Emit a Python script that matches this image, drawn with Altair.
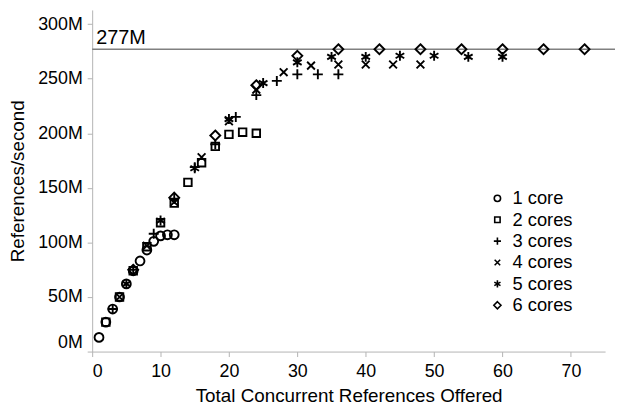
import altair as alt
import pandas as pd

series_names = ["1 core", "2 cores", "3 cores", "4 cores", "5 cores", "6 cores"]

x_1 = [1, 2, 3, 4, 5, 6, 7, 8, 9, 10, 11, 12]
y_1 = [13, 27, 39, 50, 62, 74, 83, 93, 101, 106, 107, 107]
x_2 = [2, 4, 6, 8, 10, 12, 14, 16, 18, 20, 22, 24]
y_2 = [27, 50, 74, 96, 118, 136, 155, 173, 188, 199, 201, 200]
x_3 = [3, 6, 9, 12, 15, 18, 21, 24, 27, 30, 33, 36]
y_3 = [39, 75, 108, 140, 169, 190, 215, 235, 248, 254, 254, 254]
x_4 = [4, 8, 12, 16, 20, 24, 28, 32, 36, 40, 44, 48]
y_4 = [50, 97, 137, 178, 211, 240, 256, 262, 263, 263, 263, 263]
x_5 = [5, 10, 15, 20, 25, 30, 35, 40, 45, 50, 55, 60]
y_5 = [62, 120, 168, 213, 246, 265, 270, 270, 271, 271, 270, 270]
x_6 = [6, 12, 18, 24, 30, 36, 42, 48, 54, 60, 66, 72]
y_6 = [75, 141, 198, 244, 271, 277, 277, 277, 277, 277, 277, 277]

ref_value = [277]
ref_label = ["277M"]

x_ticks = [0, 10, 20, 30, 40, 50, 60, 70]
y_ticks = [0, 50, 100, 150, 200, 250, 300]

rows = []
for name, xs, ys in zip(series_names, [x_1, x_2, x_3, x_4, x_5, x_6],
                        [y_1, y_2, y_3, y_4, y_5, y_6]):
    for a, b in zip(xs, ys):
        rows.append({"series": name, "x": a, "y": b})
df = pd.DataFrame(rows)
ref = pd.DataFrame({"y": ref_value, "label": ref_label})

circle_path = "M0.8,0A0.8,0.8,0,1,1,-0.8,0A0.8,0.8,0,1,1,0.8,0Z"
square_path = "M-0.68,-0.68H0.68V0.68H-0.68Z"
plus_path = "M-0.9,0H0.9M0,-0.9V0.9"
x_path = "M-0.7,-0.7L0.7,0.7M-0.7,0.7L0.7,-0.7"
star_path = "M0,-0.9V0.9M-0.78,-0.45L0.78,0.45M-0.78,0.45L0.78,-0.45"
diamond_path = "M0,-0.9L0.9,0L0,0.9L-0.9,0Z"
shapes = [circle_path, square_path, plus_path, x_path, star_path, diamond_path]

FONT = "Liberation Sans"

points = alt.Chart(df).mark_point(
    filled=False, size=125, strokeWidth=1.9, color="black", opacity=1
).encode(
    x=alt.X("x:Q", scale=alt.Scale(domain=[0, 75], nice=False),
            axis=alt.Axis(values=x_ticks, title="Total Concurrent References Offered",
                          labelPadding=6, titlePadding=6)),
    y=alt.Y("y:Q", scale=alt.Scale(domain=[0, 313], nice=False),
            axis=alt.Axis(values=y_ticks, labelExpr="datum.value + 'M'",
                          title="References/second", labelFlush=True,
                          labelPadding=5, titlePadding=10)),
    shape=alt.Shape("series:N",
                    scale=alt.Scale(domain=series_names, range=shapes),
                    legend=alt.Legend(title=None, orient="none", legendX=400, legendY=181,
                                      labelFont=FONT, labelFontSize=18.5, labelColor="black",
                                      symbolSize=64, symbolStrokeWidth=1.6,
                                      symbolStrokeColor="black", symbolFillColor="transparent",
                                      rowPadding=2.6, labelOffset=6)),
)

rule = alt.Chart(ref).mark_rule(color="#808080", strokeWidth=1.5).encode(
    y="y:Q", x=alt.value(0), x2=alt.value(528)
)
label = alt.Chart(ref).mark_text(
    align="left", baseline="alphabetic", dx=4, dy=-5, fontSize=20, font=FONT, color="black"
).encode(y="y:Q", x=alt.value(0), text="label:N")

chart = alt.layer(rule, label, points).properties(
    width=518, height=345,
    autosize=alt.AutoSizeParams(type="none"),
    padding={"left": 85, "top": 0, "right": 10, "bottom": 54},
).configure_axis(
    grid=False, domainColor="#b3b3b3", tickColor="#b3b3b3", tickSize=5,
    labelFont=FONT, labelFontSize=18, labelColor="black",
    titleFont=FONT, titleFontSize=19, titleFontWeight="normal", titleColor="black",
).configure_view(stroke=None)

chart.save("out.html", embed_options={"renderer": "svg", "actions": False})
